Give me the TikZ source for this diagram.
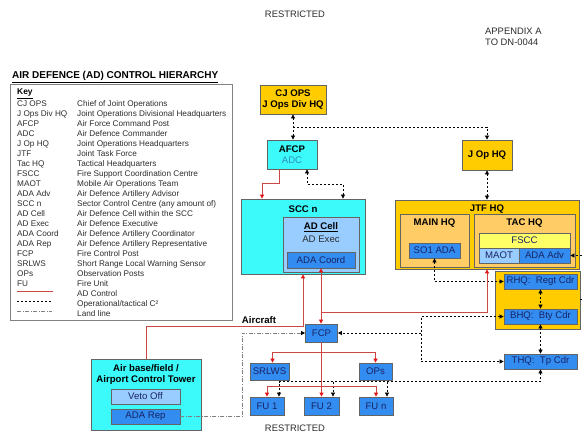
\documentclass[tikz,border=0pt]{standalone}
\usepackage{fontspec}
\setmainfont{Liberation Sans}
\usetikzlibrary{arrows.meta,calc}

\definecolor{gold}{RGB}{255,204,0}
\definecolor{lorange}{RGB}{255,204,102}
\definecolor{cyanf}{RGB}{60,250,250}
\definecolor{bluef}{RGB}{51,140,240}
\definecolor{lbluef}{RGB}{153,204,255}
\definecolor{yellowf}{RGB}{255,255,102}
\definecolor{navy}{RGB}{25,35,100}
\definecolor{edgegray}{RGB}{100,100,100}
\definecolor{keygray}{RGB}{130,130,130}
\definecolor{txtgray}{RGB}{45,45,45}
\definecolor{adcblue}{RGB}{50,140,190}
\definecolor{ctlred}{RGB}{205,70,70}
\definecolor{tipred}{RGB}{230,20,20}

\tikzset{
  boxfont/.style={font=\fontsize{9.6}{11}\selectfont},
  box/.style={draw=edgegray, line width=0.8pt, inner sep=0pt, align=center, boxfont},
  goldbox/.style={box, fill=gold, font=\fontsize{9.6}{11}\selectfont\bfseries},
  orangebox/.style={box, fill=lorange},
  cyanbox/.style={box, fill=cyanf},
  bluebox/.style={box, fill=bluef, text=navy},
  lbbox/.style={box, fill=lbluef, text=navy},
  yelbox/.style={box, fill=yellowf, text=navy},
  lbl/.style={inner sep=0pt, font=\fontsize{9.6}{11}\selectfont\bfseries},
  plain/.style={inner sep=0pt, boxfont},
  keytxt/.style={inner sep=0pt, anchor=base west, text=txtgray, font=\fontsize{8.2}{10}\selectfont},
  hdr/.style={inner sep=0pt, text=txtgray, align=left, font=\fontsize{9.4}{10.5}\selectfont},
  adctl/.style={draw=ctlred, line width=0.8pt, >={Triangle[length=4pt,width=4pt,color=tipred]}},
  opc/.style={draw=black, line width=0.7pt, dash pattern=on 2.2pt off 1.8pt, >={Triangle[length=4pt,width=4pt]}},
  land/.style={draw=gray, line width=0.8pt, dash pattern=on 4pt off 1.5pt on 1pt off 1.5pt, >={Triangle[length=4pt,width=4pt,color=black]}},
}

\begin{document}
\begin{tikzpicture}[x=1pt,y=-1pt]
\useasboundingbox[fill=white] (0,0) rectangle (582,433);

% page headers
\node[hdr] (restop) at (295,14) {RESTRICTED};
\node[hdr, anchor=west] (appx) at (485,37) {APPENDIX A\\TO DN-0044};
\node[hdr] (resbot) at (295,428) {RESTRICTED};

% title and key
\node[inner sep=0pt, anchor=base west, font=\fontsize{10}{12}\selectfont\bfseries] (title) at (12,78.5) {\underline{AIR DEFENCE (AD) CONTROL HIERARCHY}};
\node[draw=keygray, line width=1pt, fill=white, minimum width=222pt, minimum height=236pt, inner sep=0pt] (keybox) at (121,203) {};
\node[inner sep=0pt, anchor=base west, font=\fontsize{8.4}{10}\selectfont\bfseries] (keyhd) at (17,95) {\underline{Key}};
\foreach \ab/\de [count=\i from 0] in {
  CJ OPS/Chief of Joint Operations,
  J Ops Div HQ/Joint Operations Divisional Headquarters,
  AFCP/Air Force Command Post,
  ADC/Air Defence Commander,
  J Op HQ/Joint Operations Headquarters,
  JTF/Joint Task Force,
  Tac HQ/Tactical Headquarters,
  FSCC/Fire Support Coordination Centre,
  MAOT/Mobile Air Operations Team,
  ADA Adv/Air Defence Artillery Advisor,
  SCC n/Sector Control Centre (any amount of),
  AD Cell/Air Defence Cell within the SCC,
  AD Exec/Air Defence Executive,
  ADA Coord/Air Defence Artillery Coordinator,
  ADA Rep/Air Defence Artillery Representative,
  FCP/Fire Control Post,
  SRLWS/Short Range Local Warning Sensor,
  OPs/Observation Posts,
  FU/Fire Unit}{
  \node[keytxt] (kab\i) at (17,{106.5+10*\i}) {\ab};
  \node[keytxt] (kde\i) at (77,{106.5+10*\i}) {\de};
}
\draw[draw=ctlred, line width=0.8pt] (17,291) -- (53,291);
\draw[opc] (17,301) -- (51,301);
\draw[land] (17,311) -- (52,311);
\node[keytxt] (kctl) at (77,296.5) {AD Control};
\node[keytxt] (kopc) at (77,306.5) {Operational/tactical C²};
\node[keytxt] (kland) at (77,316.5) {Land line};

% top of the hierarchy
\node[goldbox, minimum width=66pt, minimum height=29pt] (cjops) at (293,99.5) {CJ OPS\\J Ops Div HQ};
\node[cyanbox, minimum width=50pt, minimum height=29pt] (afcp) at (292,154.5) {\textbf{AFCP}\\\textcolor{adcblue}{ADC}};
\node[goldbox, minimum width=50pt, minimum height=30pt] (jophq) at (487,155) {J Op HQ};

% sector control centre
\node[cyanbox, minimum width=124pt, minimum height=75pt] (scc) at (303,236.5) {};
\node[lbl] (scctitle) at (303,209) {SCC n};
\node[lbbox, minimum width=76pt, minimum height=55pt] (adcell) at (321,244.5) {};
\node[lbl] (adcelltitle) at (321,227) {\underline{AD Cell}};
\node[plain, text=txtgray] (adexec) at (321,239) {AD Exec};
\node[bluebox, minimum width=68pt, minimum height=16pt] (adacoord) at (321,260) {ADA Coord};

% joint task force headquarters
\node[goldbox, minimum width=184pt, minimum height=69pt] (jtf) at (487,234.5) {};
\node[lbl] (jtftitle) at (487,209) {JTF HQ};
\node[orangebox, minimum width=69pt, minimum height=53pt] (mainhq) at (434.5,240.5) {};
\node[lbl] (maintitle) at (434.5,223) {MAIN HQ};
\node[bluebox, minimum width=51pt, minimum height=15pt] (so1) at (434.5,250.5) {SO1 ADA};
\node[orangebox, minimum width=101pt, minimum height=53pt] (tachq) at (524.5,240.5) {};
\node[lbl] (tactitle) at (524.5,223) {TAC HQ};
\node[yelbox, minimum width=91pt, minimum height=15pt] (fscc) at (524.5,240.5) {FSCC};
\node[lbbox, minimum width=40pt, minimum height=15pt] (maot) at (499,255.5) {MAOT};
\node[bluebox, minimum width=51pt, minimum height=15pt] (adaadv) at (544.5,255.5) {ADA Adv};

% regiment and battery
\node[goldbox, minimum width=85pt, minimum height=58pt] (rgt) at (537.5,300) {};
\node[bluebox, minimum width=73pt, minimum height=15pt] (rhq) at (540.5,281.5) {RHQ:\ \ Regt Cdr};
\node[bluebox, minimum width=73pt, minimum height=15pt] (bhq) at (540.5,316.5) {BHQ:\ \ Bty Cdr};
\node[bluebox, minimum width=73pt, minimum height=15pt] (thq) at (540.5,361.5) {THQ:\ \ Tp Cdr};

% fire control and fire units
\node[bluebox, minimum width=32pt, minimum height=18pt] (fcp) at (321.5,333) {FCP};
\node[bluebox, minimum width=39pt, minimum height=17pt] (srlws) at (269.5,371.5) {SRLWS};
\node[bluebox, minimum width=33pt, minimum height=17pt] (ops) at (375.5,371.5) {OPs};
\node[bluebox, minimum width=34pt, minimum height=18pt] (fu1) at (267,406) {FU 1};
\node[bluebox, minimum width=35pt, minimum height=18pt] (fu2) at (321.5,406) {FU 2};
\node[bluebox, minimum width=34pt, minimum height=18pt] (fun) at (376,406) {FU n};

% air base
\node[cyanbox, minimum width=110pt, minimum height=71pt] (airbase) at (146,394.5) {};
\node[lbl, align=center] (airtitle) at (146,374.5) {Air base/field /\\Airport Control Tower};
\node[lbbox, minimum width=69pt, minimum height=15pt] (veto) at (145.5,396.5) {Veto Off};
\node[bluebox, minimum width=69pt, minimum height=15pt] (adarep) at (145.5,416.5) {ADA Rep};
\node[lbl] (aircraft) at (259,320) {Aircraft};

% operational / tactical C2 links
\draw[opc,<->] (cjops.south) -- (cjops.south |- afcp.north);
\draw[opc,->] ($(cjops.south)!0.5!(cjops.south |- afcp.north)$) -| (jophq.north);
\draw[opc,<->] (jophq.south) -- (jtf.north);
\draw[opc,<->] ($(afcp.south)+(15,0)$) -- ++(0,15) -| ($(scc.north)+(40,0)$);
\draw[opc,<->] (so1.south) |- (rhq.west);
\draw[opc,<->] (rhq.south) -- (bhq.north);
\draw[opc,<->] (bhq.south) -- (thq.north);
\coordinate (junc) at (421,333);
\draw[opc,<->] (bhq.west) -| (junc) |- (thq.west);
\draw[opc,->] (junc) -- (fcp.east);
\draw[opc,<->] (thq.south) |- ($(fu1.north)+(12,-15)$) -- ($(fu1.north)+(12,0)$);
\draw[opc,->] ($(fu2.north)+(11.5,-15)$) -- ($(fu2.north)+(11.5,0)$);
\draw[opc,->] ($(fun.north)+(11,-15)$) -- ($(fun.north)+(11,0)$);
\coordinate (edgeA) at (582,255.5);
\coordinate (edgeB) at (582,299);
\draw[opc,->] (edgeA) -- (adaadv.east);
\draw[opc] (rgt.east |- edgeB) -- (edgeB);

% AD control links
\draw[adctl,->] ($(afcp.south)+(-13,0)$) -- ++(0,14) -| ($(scc.north)+(-41,0)$);
\draw[adctl,<->] (adacoord.south) -- (adacoord.south |- fcp.north);
\draw[adctl,->] ($(adacoord.south)+(0,44)$) -| (jtf.south);
\draw[adctl,->] (airbase.north) -- ++(0,-32) -| (scc.south);
\draw[adctl,->] (fcp.south) -- (fu2.north);
\draw[adctl,->] ($(fcp.south)+(0,10)$) -| ($(srlws.north)+(3,0)$);
\draw[adctl,->] ($(fcp.south)+(0,10)$) -| (ops.north);
\draw[adctl,->] ($(fcp.south)+(0,44)$) -| (fu1.north);
\draw[adctl,->] ($(fcp.south)+(0,44)$) -| (fun.north);

% land line
\draw[land,->] (adarep.east) -- ++(62,0) |- (fcp.west);
\end{tikzpicture}
\end{document}
